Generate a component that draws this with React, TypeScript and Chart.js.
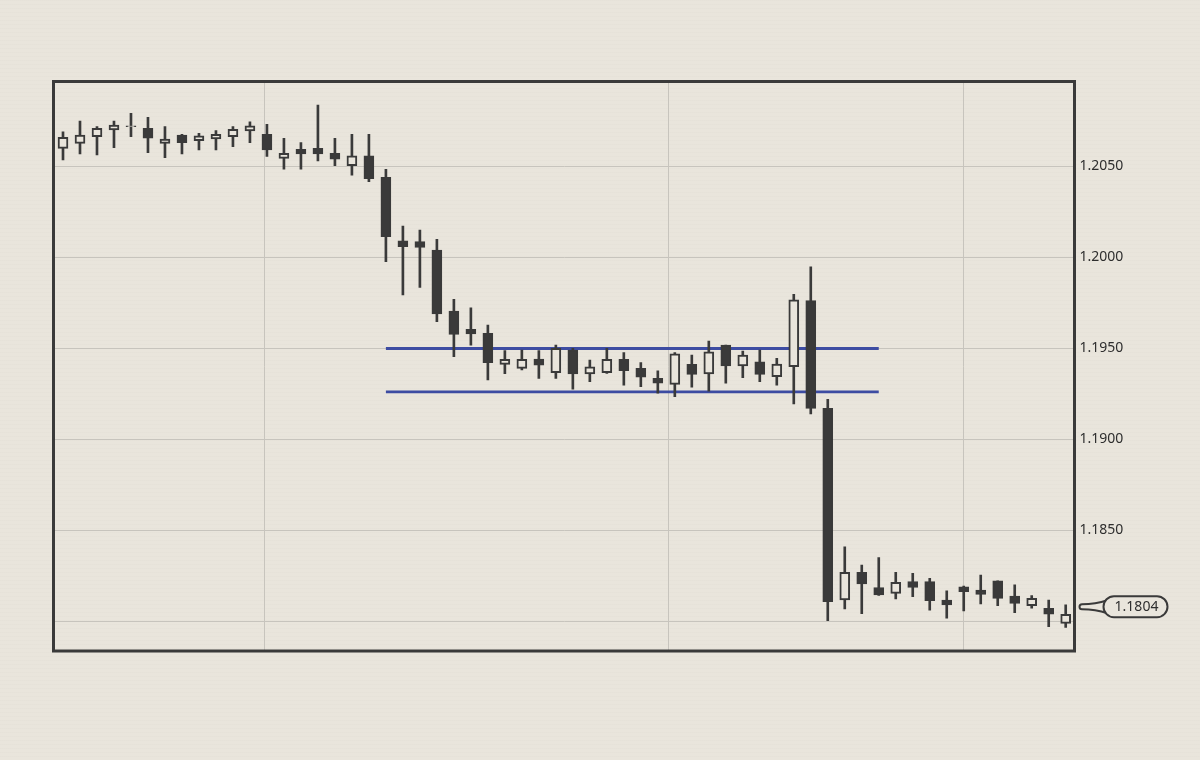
import React, { useEffect, useRef } from "react";
import { Chart, registerables } from "chart.js";

Chart.register(...registerables);

const OPEN = [
  1.20600, 1.20627, 1.20664, 1.20701, 1.20719, 1.20710, 1.20627, 1.20673, 1.20642, 1.20651,
  1.20664, 1.20695, 1.20677, 1.20545, 1.20595, 1.20600, 1.20573, 1.20504, 1.20558, 1.20441,
  1.20092, 1.20087, 1.20041, 1.19706, 1.19605, 1.19584, 1.19413, 1.19391, 1.19442, 1.19367,
  1.19492, 1.19360, 1.19367, 1.19441, 1.19391, 1.19336, 1.19303, 1.19413, 1.19360, 1.19519,
  1.19404, 1.19427, 1.19345, 1.19400, 1.19763, 1.19171, 1.18118, 1.18270, 1.18186, 1.18155,
  1.18219, 1.18219, 1.18118, 1.18191, 1.18173, 1.18224, 1.18140, 1.18087, 1.18073, 1.17990,
];
const HIGH = [
  1.20691, 1.20750, 1.20719, 1.20750, 1.20792, 1.20770, 1.20719, 1.20677, 1.20682, 1.20697,
  1.20719, 1.20746, 1.20732, 1.20655, 1.20631, 1.20838, 1.20655, 1.20677, 1.20677, 1.20485,
  1.20173, 1.20151, 1.20100, 1.19770, 1.19724, 1.19629, 1.19488, 1.19492, 1.19488, 1.19519,
  1.19501, 1.19437, 1.19501, 1.19477, 1.19422, 1.19378, 1.19477, 1.19464, 1.19541, 1.19519,
  1.19486, 1.19492, 1.19446, 1.19798, 1.19949, 1.19221, 1.18411, 1.18310, 1.18351, 1.18270,
  1.18265, 1.18237, 1.18169, 1.18195, 1.18255, 1.18224, 1.18201, 1.18142, 1.18118, 1.18091,
];
const LOW = [
  1.20536, 1.20569, 1.20563, 1.20603, 1.20664, 1.20576, 1.20548, 1.20569, 1.20591, 1.20591,
  1.20609, 1.20631, 1.20555, 1.20486, 1.20486, 1.20530, 1.20504, 1.20453, 1.20416, 1.19977,
  1.19794, 1.19836, 1.19647, 1.19455, 1.19519, 1.19327, 1.19362, 1.19382, 1.19336, 1.19336,
  1.19277, 1.19318, 1.19363, 1.19299, 1.19290, 1.19254, 1.19235, 1.19287, 1.19266, 1.19309,
  1.19340, 1.19318, 1.19299, 1.19195, 1.19140, 1.18004, 1.18069, 1.18043, 1.18143, 1.18124,
  1.18136, 1.18063, 1.18018, 1.18058, 1.18096, 1.18087, 1.18048, 1.18073, 1.17971, 1.17968,
];
const CLOSE = [
  1.20660, 1.20673, 1.20710, 1.20728, 1.20724, 1.20655, 1.20651, 1.20631, 1.20668, 1.20677,
  1.20704, 1.20724, 1.20591, 1.20573, 1.20569, 1.20569, 1.20540, 1.20559, 1.20433, 1.20114,
  1.20059, 1.20056, 1.19690, 1.19578, 1.19580, 1.19422, 1.19441, 1.19441, 1.19409, 1.19501,
  1.19360, 1.19400, 1.19441, 1.19378, 1.19342, 1.19309, 1.19471, 1.19358, 1.19482, 1.19405,
  1.19464, 1.19358, 1.19415, 1.19767, 1.19171, 1.18109, 1.18270, 1.18206, 1.18146, 1.18215,
  1.18188, 1.18114, 1.18091, 1.18164, 1.18149, 1.18127, 1.18100, 1.18127, 1.18040, 1.18040,
];

const Y_TICKS = [1.18, 1.185, 1.19, 1.195, 1.2, 1.205];
const HIDDEN_TICK = 1.18;
const X_GRID = [11.83, 35.6, 53.0];
const RANGE_TOP = 1.195;
const RANGE_BOTTOM = 1.19262;
const RANGE_START = 19;
const RANGE_END = 48;
const TAG_VALUE = 1.1804;
const TAG_LABEL = "1.1804";

const BG = "#e9e5dc";
const INK = "#3a3a3a";
const BLUE = "#3d4ca2";
const FONT = "'Noto Sans', 'DejaVu Sans', sans-serif";

const framePlugin = {
  id: "frame",
  afterDraw(chart: any) {
    const { ctx, chartArea } = chart;
    ctx.save();
    ctx.strokeStyle = INK;
    ctx.lineWidth = 3;
    ctx.strokeRect(chartArea.left, chartArea.top, chartArea.right - chartArea.left, chartArea.bottom - chartArea.top);
    ctx.restore();
  },
};

const tagPlugin = {
  id: "priceTag",
  afterDraw(chart: any) {
    const { ctx, chartArea } = chart;
    const y = chart.scales.y.getPixelForValue(TAG_VALUE) - 7.5;
    const tip = chartArea.right + 5;
    const pl = chartArea.right + 29;
    const pw = 64;
    const ph = 21;
    const pt = y - ph / 2;
    const r = ph / 2;
    ctx.save();
    ctx.lineWidth = 2;
    ctx.strokeStyle = INK;
    ctx.fillStyle = BG;
    // tail
    ctx.beginPath();
    ctx.moveTo(pl + 4, y - 6.5);
    ctx.quadraticCurveTo(pl - 8, y - 2.5, tip + 2.5, y - 2.5);
    ctx.arc(tip + 2.5, y, 2.5, -Math.PI / 2, Math.PI / 2, true);
    ctx.quadraticCurveTo(pl - 8, y + 2.5, pl + 4, y + 6.5);
    ctx.closePath();
    ctx.fill();
    ctx.stroke();
    // pill
    ctx.beginPath();
    ctx.moveTo(pl + r, pt);
    ctx.lineTo(pl + pw - r, pt);
    ctx.arc(pl + pw - r, pt + r, r, -Math.PI / 2, Math.PI / 2);
    ctx.lineTo(pl + r, pt + ph);
    ctx.arc(pl + r, pt + r, r, Math.PI / 2, (3 * Math.PI) / 2);
    ctx.closePath();
    ctx.fill();
    ctx.stroke();
    ctx.fillStyle = "#2e2e2e";
    ctx.font = `14px ${FONT}`;
    ctx.textAlign = "center";
    ctx.textBaseline = "middle";
    ctx.fillText(TAG_LABEL, pl + pw / 2 + 1, y + 0.5);
    ctx.restore();
  },
};

export default function App() {
  const ref = useRef<HTMLCanvasElement | null>(null);

  useEffect(() => {
    if (!ref.current) return;
    const idx = OPEN.map((_, i) => i);
    const wicks = idx.map((i) => ({ x: i, y: [LOW[i], HIGH[i]] }));
    const bodies = idx.map((i) => ({ x: i, y: [OPEN[i], CLOSE[i]] }));
    const bodyFill = idx.map((i) => (CLOSE[i] >= OPEN[i] ? BG : INK));

    const chart = new Chart(ref.current, {
      type: "bar",
      data: {
        datasets: [
          {
            type: "line",
            data: [
              { x: RANGE_START, y: RANGE_TOP },
              { x: RANGE_END, y: RANGE_TOP },
            ],
            borderColor: BLUE,
            borderWidth: 2.8,
            pointRadius: 0,
            order: 3,
          } as any,
          {
            type: "line",
            data: [
              { x: RANGE_START, y: RANGE_BOTTOM },
              { x: RANGE_END, y: RANGE_BOTTOM },
            ],
            borderColor: BLUE,
            borderWidth: 2.8,
            pointRadius: 0,
            order: 3,
          } as any,
          {
            data: wicks as any,
            backgroundColor: INK,
            borderWidth: 0,
            barThickness: 2,
            grouped: false,
            order: 2,
          },
          {
            data: bodies as any,
            backgroundColor: bodyFill,
            borderColor: INK,
            borderWidth: 2,
            borderSkipped: false,
            barThickness: 10,
            grouped: false,
            order: 1,
          },
        ],
      },
      options: {
        responsive: false,
        animation: false,
        events: [],
        layout: { padding: { left: 53.5, top: 81.5, right: 0, bottom: 109 } },
        plugins: { legend: { display: false }, tooltip: { enabled: false } },
        scales: {
          x: {
            type: "linear",
            min: -0.559,
            max: 59.518,
            offset: false,
            grid: { offset: false, color: "#c7c4bd", lineWidth: 1, drawTicks: false },
            border: { display: false },
            ticks: { display: false },
            afterBuildTicks: (scale: any) => {
              scale.ticks = X_GRID.map((v) => ({ value: v }));
            },
            afterFit: (scale: any) => {
              scale.height = 0;
            },
          },
          y: {
            type: "linear",
            position: "right",
            min: 1.17838,
            max: 1.20967,
            grid: { color: "#c7c4bd", lineWidth: 1, drawTicks: false },
            border: { display: false },
            ticks: {
              padding: 5,
              color: "#2e2e2e",
              font: { family: FONT, size: 14 },
              callback: (v: any) => (Math.abs(Number(v) - HIDDEN_TICK) < 1e-7 ? "" : Number(v).toFixed(4)),
            },
            afterBuildTicks: (scale: any) => {
              scale.ticks = Y_TICKS.map((v) => ({ value: v }));
            },
            afterFit: (scale: any) => {
              scale.width = 125.5;
            },
          },
        },
      },
      plugins: [framePlugin, tagPlugin],
    });
    return () => chart.destroy();
  }, []);

  return (
    <div
      style={{
        position: "fixed",
        left: 0,
        top: 0,
        width: 1200,
        height: 760,
        background: `repeating-linear-gradient(0deg, rgba(255,255,255,0) 0px, rgba(255,255,255,0) 3px, rgba(0,0,0,0.012) 3px, rgba(0,0,0,0.012) 4px), ${BG}`,
      }}
    >
      <canvas ref={ref} width={1200} height={760} style={{ display: "block", width: 1200, height: 760 }} />
    </div>
  );
}
